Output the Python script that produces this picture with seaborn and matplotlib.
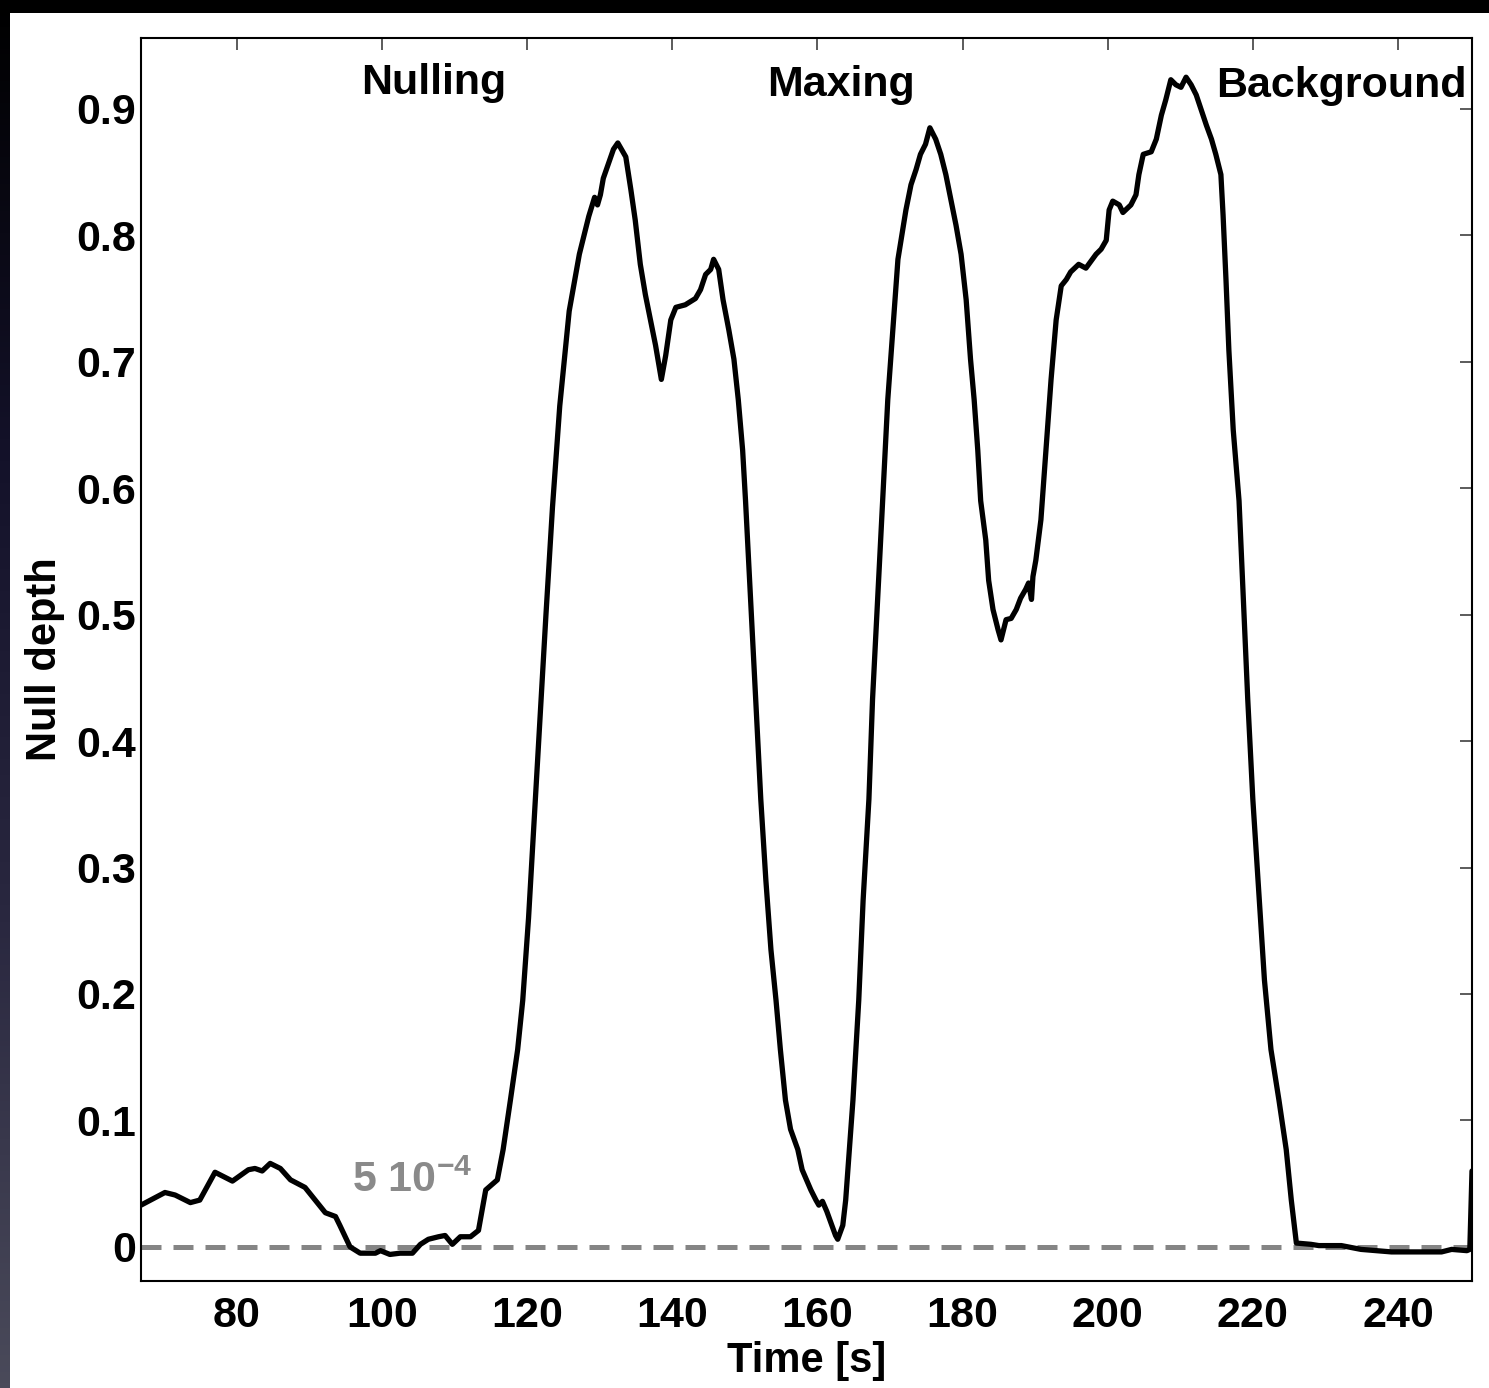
import numpy as np
import pandas as pd
import matplotlib
matplotlib.use("Agg")
import matplotlib.pyplot as plt
from matplotlib.patches import Rectangle
from matplotlib.colors import LinearSegmentedColormap
import seaborn as sns

# ---- data ----
time_s = [66.8, 70.1, 71.5, 73.6, 74.9, 77.0, 79.4, 81.6, 82.5, 83.5, 84.6, 86.0, 87.4,
          89.4, 90.8, 92.2, 93.6, 94.2, 95.6, 97.0, 99.1, 99.8, 101.1, 102.5, 104.2,
          105.3, 106.4, 107.8, 108.7, 109.7, 110.8, 112.2, 113.3, 114.3, 115.9, 116.7,
          117.7, 118.7, 119.4, 120.2, 121.0, 121.8, 122.6, 123.5, 124.5, 125.8, 127.2,
          128.5, 129.3, 129.7, 130.1, 130.5, 131.9, 132.5, 133.6, 134.3, 134.9, 135.6,
          136.3, 137.0, 137.7, 138.5, 139.1, 139.8, 140.5, 141.8, 143.2, 143.9, 144.6,
          145.3, 145.7, 146.4, 147.0, 147.8, 148.5, 149.1, 149.7, 150.1, 150.8, 151.5,
          152.2, 152.9, 153.6, 154.3, 154.9, 155.6, 156.3, 157.3, 157.9, 159.1, 159.8,
          160.2, 160.7, 161.3, 161.8, 162.5, 162.8, 163.5, 163.9, 164.3, 164.9, 165.7,
          166.3, 167.1, 167.6, 168.3, 169.0, 169.7, 170.4, 171.1, 172.2, 172.9, 173.6,
          174.2, 174.9, 175.5, 176.3, 177.0, 177.7, 178.4, 179.1, 179.8, 180.5, 181.1,
          181.6, 182.1, 182.5, 183.2, 183.6, 184.2, 184.9, 185.3, 186.0, 186.7, 187.4,
          188.0, 188.7, 189.1, 189.5, 189.7, 190.1, 190.8, 191.5, 192.2, 192.9, 193.6,
          194.3, 194.9, 196.0, 197.0, 198.4, 199.1, 199.8, 200.2, 200.7, 201.6, 202.1,
          203.2, 203.9, 204.3, 204.9, 206.0, 206.7, 207.4, 208.0, 208.7, 209.4, 210.1,
          210.8, 211.5, 212.2, 212.9, 213.6, 214.3, 214.9, 215.6, 215.9, 216.3, 216.7,
          217.3, 218.1, 218.7, 219.3, 220.0, 220.9, 221.6, 222.5, 223.6, 224.6, 225.3,
          226.0, 228.0, 229.1, 232.2, 234.9, 239.1, 246.0, 247.4, 249.5, 249.9, 250.2]
null_depth = [0.033, 0.043, 0.041, 0.035, 0.037, 0.059, 0.052, 0.061, 0.062, 0.060, 0.066,
              0.062, 0.053, 0.047, 0.037, 0.027, 0.024, 0.017, 0.000, -0.005, -0.005,
              -0.003, -0.006, -0.005, -0.005, 0.002, 0.006, 0.008, 0.009, 0.002, 0.008,
              0.008, 0.013, 0.045, 0.053, 0.077, 0.116, 0.156, 0.195, 0.260, 0.340, 0.420,
              0.500, 0.585, 0.665, 0.740, 0.785, 0.815, 0.830, 0.824, 0.832, 0.845, 0.868,
              0.873, 0.862, 0.836, 0.812, 0.777, 0.753, 0.733, 0.713, 0.686, 0.705, 0.733,
              0.743, 0.745, 0.750, 0.757, 0.769, 0.773, 0.781, 0.773, 0.749, 0.725, 0.702,
              0.670, 0.630, 0.590, 0.512, 0.433, 0.354, 0.290, 0.235, 0.195, 0.156, 0.116,
              0.093, 0.077, 0.061, 0.045, 0.037, 0.033, 0.036, 0.028, 0.020, 0.009, 0.006,
              0.017, 0.037, 0.069, 0.116, 0.195, 0.274, 0.354, 0.433, 0.512, 0.590, 0.670,
              0.725, 0.781, 0.820, 0.840, 0.852, 0.864, 0.872, 0.885, 0.876, 0.864, 0.848,
              0.828, 0.808, 0.785, 0.749, 0.702, 0.670, 0.630, 0.590, 0.559, 0.527, 0.504,
              0.488, 0.480, 0.496, 0.497, 0.504, 0.513, 0.520, 0.525, 0.512, 0.530, 0.543,
              0.575, 0.630, 0.686, 0.733, 0.760, 0.765, 0.771, 0.777, 0.774, 0.785, 0.789,
              0.796, 0.820, 0.827, 0.824, 0.818, 0.824, 0.832, 0.848, 0.864, 0.866, 0.876,
              0.895, 0.907, 0.923, 0.919, 0.917, 0.925, 0.919, 0.911, 0.899, 0.887, 0.876,
              0.864, 0.848, 0.816, 0.765, 0.709, 0.646, 0.590, 0.512, 0.433, 0.354, 0.274,
              0.211, 0.156, 0.116, 0.077, 0.037, 0.003, 0.002, 0.001, 0.001, -0.002, -0.004,
              -0.004, -0.002, -0.003, -0.002, 0.060]

x_ticks = [80, 100, 120, 140, 160, 180, 200, 220, 240]
y_ticks = [0, 0.1, 0.2, 0.3, 0.4, 0.5, 0.6, 0.7, 0.8, 0.9]
y_tick_labels = ["0", "0.1", "0.2", "0.3", "0.4", "0.5", "0.6", "0.7", "0.8", "0.9"]
phase_labels = ["Nulling", "Maxing", "Background"]
phase_x = [107.1, 163.2, 214.9]
phase_ha = ["center", "center", "left"]
phase_y = [0.912, 0.910, 0.909]

df = pd.DataFrame({"Time [s]": time_s, "Null depth": null_depth})

# ---- style ----
sns.set_style("white")
plt.rcParams["font.family"] = ["Liberation Sans", "DejaVu Sans"]
plt.rcParams["font.weight"] = "bold"
plt.rcParams["text.color"] = "black"
plt.rcParams["axes.labelcolor"] = "black"
plt.rcParams["xtick.color"] = "black"
plt.rcParams["ytick.color"] = "black"
plt.rcParams["mathtext.fontset"] = "custom"
plt.rcParams["mathtext.rm"] = "Liberation Sans:bold"
plt.rcParams["mathtext.bf"] = "Liberation Sans:bold"
plt.rcParams["mathtext.it"] = "Liberation Sans:bold"

FS = 31

fig = plt.figure(figsize=(14.89, 13.88), dpi=100, facecolor="white")

# dark frame strips (top and left)
fig.patches.append(Rectangle((0, 1 - 13 / 1388), 1, 13 / 1388, transform=fig.transFigure,
                             facecolor="black", edgecolor="none", zorder=0))
gax = fig.add_axes([0, 0, 10 / 1489, 1])
grad = np.linspace(0, 1, 256).reshape(-1, 1)
cmap = LinearSegmentedColormap.from_list("frame", ["#000000", "#14122a", "#2a2840", "#4a4a5a"])
gax.imshow(grad, aspect="auto", cmap=cmap, extent=[0, 1, 1, 0])
gax.set_axis_off()

ax = fig.add_axes([141 / 1489, 1 - 1281 / 1388, (1472 - 141) / 1489, (1281 - 38) / 1388])
ax.set_facecolor("white")

ax.axhline(0, color="#858585", lw=3.6, ls=(0, (4, 2.4)), zorder=1)
sns.lineplot(data=df, x="Time [s]", y="Null depth", ax=ax, color="black", lw=3.8,
             sort=False, estimator=None, zorder=3)

ax.set_xlim(66.8, 250.2)
ax.set_ylim(-0.027, 0.956)
ax.set_xticks(x_ticks)
ax.set_xticklabels([str(v) for v in x_ticks])
ax.set_yticks(y_ticks)
ax.set_yticklabels(y_tick_labels)

ax.tick_params(axis="both", which="major", direction="in", length=8.5, width=1.2,
               color="#404040", labelcolor="black", labelsize=FS, top=True, right=True,
               labeltop=False, labelright=False)
ax.tick_params(axis="x", pad=11)
ax.tick_params(axis="y", pad=3.5)
for lab in ax.get_xticklabels() + ax.get_yticklabels():
    lab.set_fontweight("bold")

for sp in ax.spines.values():
    sp.set_visible(True)
    sp.set_color("black")
    sp.set_linewidth(1.5)

ax.set_xlabel("Time [s]", fontsize=30, fontweight="bold", labelpad=3.5, color="black")
ax.set_ylabel("Null depth", fontsize=30, fontweight="bold", labelpad=8, color="black")

for lab, xx, yy, ha in zip(phase_labels, phase_x, phase_y, phase_ha):
    ax.text(xx, yy, lab, fontsize=FS, fontweight="bold", ha=ha, va="baseline", color="black")

ax.text(95.9, 0.043, r"5 10$^{-4}$", fontsize=FS, fontweight="bold", color="#8a8a8a",
        ha="left", va="baseline")

fig.savefig("out.png", dpi=100, facecolor=fig.get_facecolor())
